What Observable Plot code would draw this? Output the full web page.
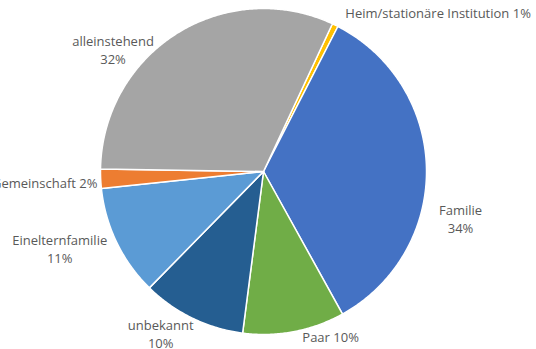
<!DOCTYPE html>
<html>
<head>
<meta charset="utf-8">
<script src="https://cdn.jsdelivr.net/npm/d3@7"></script>
<script src="https://cdn.jsdelivr.net/npm/@observablehq/plot@0.6"></script>
<style>
  html, body { margin: 0; padding: 0; background: #ffffff; }
  #chart svg { display: block; }
</style>
</head>
<body>
<div id="chart"></div>
<script>
// ---- data ----
const categories = ["Heim/stationäre Institution", "Familie", "Paar", "unbekannt", "Einelternfamilie", "Gemeinschaft", "alleinstehend"];
const shares = [0.6, 34.4, 10.1, 10.3, 11.0, 1.9, 31.7];
const colors = ["#FFC000", "#4472C4", "#70AD47", "#255E91", "#5B9BD5", "#ED7D31", "#A5A5A5"];

// ---- label layout (Excel "best fit" placement) ----
const labelTwoLines = [false, true, false, true, true, false, true];
const labelAnchor = ["start", "middle", "middle", "middle", "middle", "end", "middle"];
const labelShiftDeg = [1.3, 14.6, -11.2, 6.3, 4.9, -1.6, -19];
const labelRadius = [1.092, 1.244, 1.098, 1.183, 1.338, 1.021, 1.187];

// ---- layout ----
const W = 536, H = 349;
const cx = 263, cy = 171, R = 163;
const startDeg = 25;

const total = d3.sum(shares);
const pie = d3.pie().sort(null).value(d => d)
  .startAngle(startDeg * Math.PI / 180)
  .endAngle(startDeg * Math.PI / 180 + 2 * Math.PI);
const arcs = pie(shares);

// polygon points of each slice on a unit circle
const slicePts = [];
arcs.forEach((a, i) => {
  const name = categories[i];
  slicePts.push({name, x: 0, y: 0});
  const n = Math.max(2, Math.ceil((a.endAngle - a.startAngle) / (Math.PI / 360)));
  for (let k = 0; k <= n; k++) {
    const t = a.startAngle + (a.endAngle - a.startAngle) * k / n;
    slicePts.push({name, x: Math.sin(t), y: Math.cos(t)});
  }
});

const labels = arcs.map((a, i) => {
  const mid = (a.startAngle + a.endAngle) / 2 + labelShiftDeg[i] * Math.PI / 180;
  const pct = Math.round(shares[i] / total * 100) + "%";
  return {
    x: Math.sin(mid) * labelRadius[i],
    y: Math.cos(mid) * labelRadius[i],
    text: categories[i] + (labelTwoLines[i] ? "\n" : " ") + pct,
    anchor: labelAnchor[i]
  };
});

const textOpts = {x: "x", y: "y", text: "text", fill: "#595959", fontSize: 13, lineHeight: 1.38, dy: -1};

const chart = Plot.plot({
  width: W,
  height: H,
  margin: 0,
  style: {background: "#ffffff", fontFamily: "'Open Sans', 'Noto Sans', sans-serif", overflow: "hidden"},
  x: {domain: [-cx / R, (W - cx) / R], range: [0, W], axis: null},
  y: {domain: [-(H - cy) / R, cy / R], range: [H, 0], axis: null},
  color: {domain: categories, range: colors},
  marks: [
    Plot.line(slicePts, {x: "x", y: "y", z: "name", fill: "name", stroke: "#ffffff", strokeWidth: 1.5, curve: "linear-closed"}),
    Plot.text(labels.filter(d => d.anchor === "start"), {...textOpts, textAnchor: "start"}),
    Plot.text(labels.filter(d => d.anchor === "middle"), {...textOpts, textAnchor: "middle"}),
    Plot.text(labels.filter(d => d.anchor === "end"), {...textOpts, textAnchor: "end"})
  ]
});
document.getElementById("chart").appendChild(chart);
</script>
</body>
</html>
